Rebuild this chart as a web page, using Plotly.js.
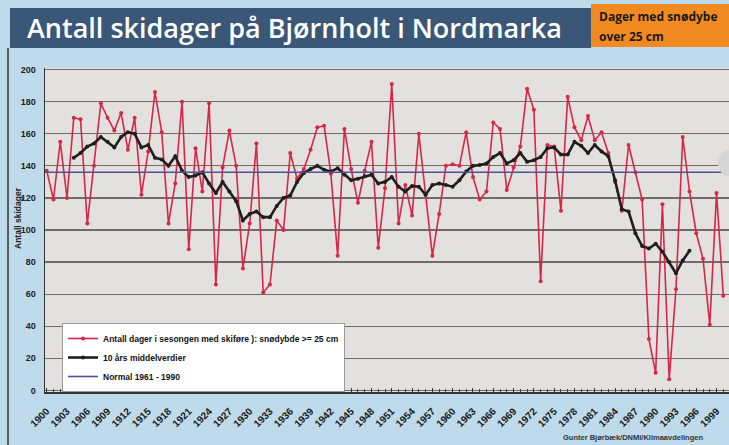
<!DOCTYPE html>
<html>
<head>
<meta charset="utf-8">
<script src="https://cdn.plot.ly/plotly-3.0.1.min.js"></script>
<style>html,body{margin:0;padding:0;background:#bfdbeb;}#chart{width:729px;height:445px;}</style>
</head>
<body>
<div id="chart"></div>
<script>
// Years of the seasons
const years = [1900,1901,1902,1903,1904,1905,1906,1907,1908,1909,1910,1911,1912,1913,1914,1915,1916,1917,1918,1919,
1920,1921,1922,1923,1924,1925,1926,1927,1928,1929,1930,1931,1932,1933,1934,1935,1936,1937,1938,1939,
1940,1941,1942,1943,1944,1945,1946,1947,1948,1949,1950,1951,1952,1953,1954,1955,1956,1957,1958,1959,
1960,1961,1962,1963,1964,1965,1966,1967,1968,1969,1970,1971,1972,1973,1974,1975,1976,1977,1978,1979,
1980,1981,1982,1983,1984,1985,1986,1987,1988,1989,1990,1991,1992,1993,1994,1995,1996,1997,1998,1999,2000];

// Days per season with snow depth >= 25 cm
const skiDays = [137,119,155,120,170,169,104,140,179,170,162,173,150,170,122,149,186,161,104,129,
180,88,151,124,179,66,139,162,140,76,104,154,61,66,106,100,148,132,138,150,
164,165,135,84,163,138,117,137,155,89,126,191,104,128,109,160,122,84,110,140,
141,140,161,133,119,124,167,163,125,139,152,188,175,68,153,152,112,183,164,156,
171,156,161,148,130,112,153,136,119,32,11,116,7,63,158,124,98,82,41,123,59];

// 10-year mean values
const meanYears = [1904,1905,1906,1907,1908,1909,1910,1911,1912,1913,1914,1915,1916,1917,1918,1919,
1920,1921,1922,1923,1924,1925,1926,1927,1928,1929,1930,1931,1932,1933,1934,1935,1936,1937,1938,1939,
1940,1941,1942,1943,1944,1945,1946,1947,1948,1949,1950,1951,1952,1953,1954,1955,1956,1957,1958,1959,
1960,1961,1962,1963,1964,1965,1966,1967,1968,1969,1970,1971,1972,1973,1974,1975,1976,1977,1978,1979,
1980,1981,1982,1983,1984,1985,1986,1987,1988,1989,1990,1991,1992,1993,1994,1995];
const meanValues = [145,148,152,154,158,155,151.5,158,161,160,151.5,153,145,144,140,146,
137,133,134,136,129,123,130,124,118,106,110,111.5,108,108,115,120,121.5,130,135.5,138,
140,137.5,136.5,138.5,134.5,131,132,133.5,134.5,129,130,133,127,124,127.5,127,122,128,129,128,
127,131,136.5,140,140.5,141.5,145.5,148,141.5,143.5,148,142.5,143.5,145.5,151,151.5,147,147,155,152.5,
148,153,149,146,131,113,111.5,98,90,88.5,91.5,86.5,80,73,81,87];

// Normal 1961-1990
const normalValue = 136;
const xRange = [1899.75, 2000.84];

// Tick labels
const tickLabelYears = [1900,1903,1906,1909,1912,1915,1918,1921,1924,1927,1930,1933,1936,1939,1942,1945,1948,1951,
1954,1957,1960,1963,1966,1969,1972,1975,1978,1981,1984,1987,1990,1993,1996,1999];
const tickLabels = tickLabelYears.map(String);
const yTicks = [0,20,40,60,80,100,120,140,160,180,200];

const yFont = {family: 'Liberation Sans, Arial, sans-serif', size: 9, color: '#222', weight: 700};
const xFont = {family: 'Liberation Sans, Arial, sans-serif', size: 10, color: '#1a1a1a', weight: 700};

const traces = [
  {
    x: years, y: skiDays, type: 'scatter', mode: 'lines+markers',
    name: 'Antall dager i sesongen med skiføre ): snødybde >= 25 cm',
    line: {color: '#d8264a', width: 1.6},
    marker: {color: '#d8264a', size: 4}
  },
  {
    x: meanYears, y: meanValues, type: 'scatter', mode: 'lines+markers',
    name: '10 års middelverdier',
    line: {color: '#1f1f1f', width: 2.6},
    marker: {color: '#1f1f1f', size: 4}
  },
  {
    x: xRange, y: [normalValue, normalValue], type: 'scatter', mode: 'lines',
    name: 'Normal 1961 - 1990',
    line: {color: '#4f5296', width: 1.6}
  }
];

const W = 684, H = 324, L = 45, T = 68;
const px = v => (v - L) / W;
const py = v => (T + H - v) / H;

const layout = {
  width: 729, height: 445,
  margin: {l: 45, r: 0, t: 68, b: 53},
  paper_bgcolor: '#bfdbeb',
  plot_bgcolor: '#e3e1dd',
  showlegend: true,
  title: {
    text: 'Antall skidager på Bjørnholt i Nordmarka',
    xref: 'container', yref: 'container',
    x: 27/729, xanchor: 'left',
    y: 1 - 29/445, yanchor: 'middle',
    font: {family: 'Open Sans, sans-serif', size: 27, color: '#ffffff', weight: 600}
  },
  xaxis: {
    range: xRange,
    tickmode: 'array', tickvals: tickLabelYears, ticktext: tickLabels,
    tickangle: -45, tickfont: xFont,
    ticks: 'inside', ticklen: 4, tickcolor: '#333', tickwidth: 1,
    minor: {dtick: 1, tick0: 1900, ticks: 'inside', ticklen: 3, tickcolor: '#444', tickwidth: 1, showgrid: false},
    showgrid: false, zeroline: false,
    showline: true, linecolor: '#333', linewidth: 1.5,
    ticklabelstandoff: 8
  },
  yaxis: {
    range: [-1, 201],
    tickmode: 'array', tickvals: yTicks,
    tickfont: yFont, ticks: '',
    showgrid: true, gridcolor: '#6f6c6a', gridwidth: 1.3,
    zeroline: false,
    showline: true, linecolor: '#333', linewidth: 1.5,
    ticklabelstandoff: 6
  },
  legend: {
    x: px(62), y: py(323), xanchor: 'left', yanchor: 'top',
    bgcolor: '#ffffff', bordercolor: '#9a9a9a', borderwidth: 1,
    font: {family: 'Liberation Sans, Arial, sans-serif', size: 8.5, color: '#111', weight: 700},
    tracegroupgap: 0, itemwidth: 30
  },
  shapes: [
    {type: 'rect', xref: 'paper', yref: 'paper', x0: px(10), x1: px(591), y0: py(48), y1: py(8),
     fillcolor: '#3a5777', line: {width: 0}, layer: 'above'},
    {type: 'rect', xref: 'paper', yref: 'paper', x0: px(591), x1: px(729), y0: py(47), y1: py(4),
     fillcolor: '#f28a22', line: {width: 0}, layer: 'above'},
    {type: 'line', xref: 'paper', yref: 'paper', x0: px(8), x1: px(8), y0: py(445), y1: py(48),
     line: {color: '#333', width: 1.5}},
    {type: 'circle', xref: 'paper', yref: 'paper', x0: px(718), x1: px(740), y0: py(176), y1: py(150),
     fillcolor: '#d6d6d6', line: {width: 0}, layer: 'above'}
  ],
  annotations: [
    {text: 'Dager med snødybe', xref: 'paper', yref: 'paper', x: px(597), y: py(17),
     xanchor: 'left', yanchor: 'middle', showarrow: false,
     font: {family: 'Open Sans, sans-serif', size: 12, color: '#1a1a1a', weight: 700}},
    {text: 'over 25 cm', xref: 'paper', yref: 'paper', x: px(597), y: py(36),
     xanchor: 'left', yanchor: 'middle', showarrow: false,
     font: {family: 'Open Sans, sans-serif', size: 12, color: '#1a1a1a', weight: 700}},
    {text: 'Antall skidager', xref: 'paper', yref: 'paper', x: px(18), y: py(218),
     xanchor: 'center', yanchor: 'middle', textangle: -90, showarrow: false,
     font: {family: 'Liberation Sans, Arial, sans-serif', size: 8.5, color: '#222', weight: 700}},
    {text: 'Gunter Bjørbæk/DNMI/Klimaavdelingen', xref: 'paper', yref: 'paper', x: px(705), y: py(437),
     xanchor: 'right', yanchor: 'middle', showarrow: false,
     font: {family: 'Liberation Sans, Arial, sans-serif', size: 7.5, color: '#333', weight: 700}}
  ]
};

Plotly.newPlot('chart', traces, layout, {displayModeBar: false, staticPlot: true});
</script>
</body>
</html>
